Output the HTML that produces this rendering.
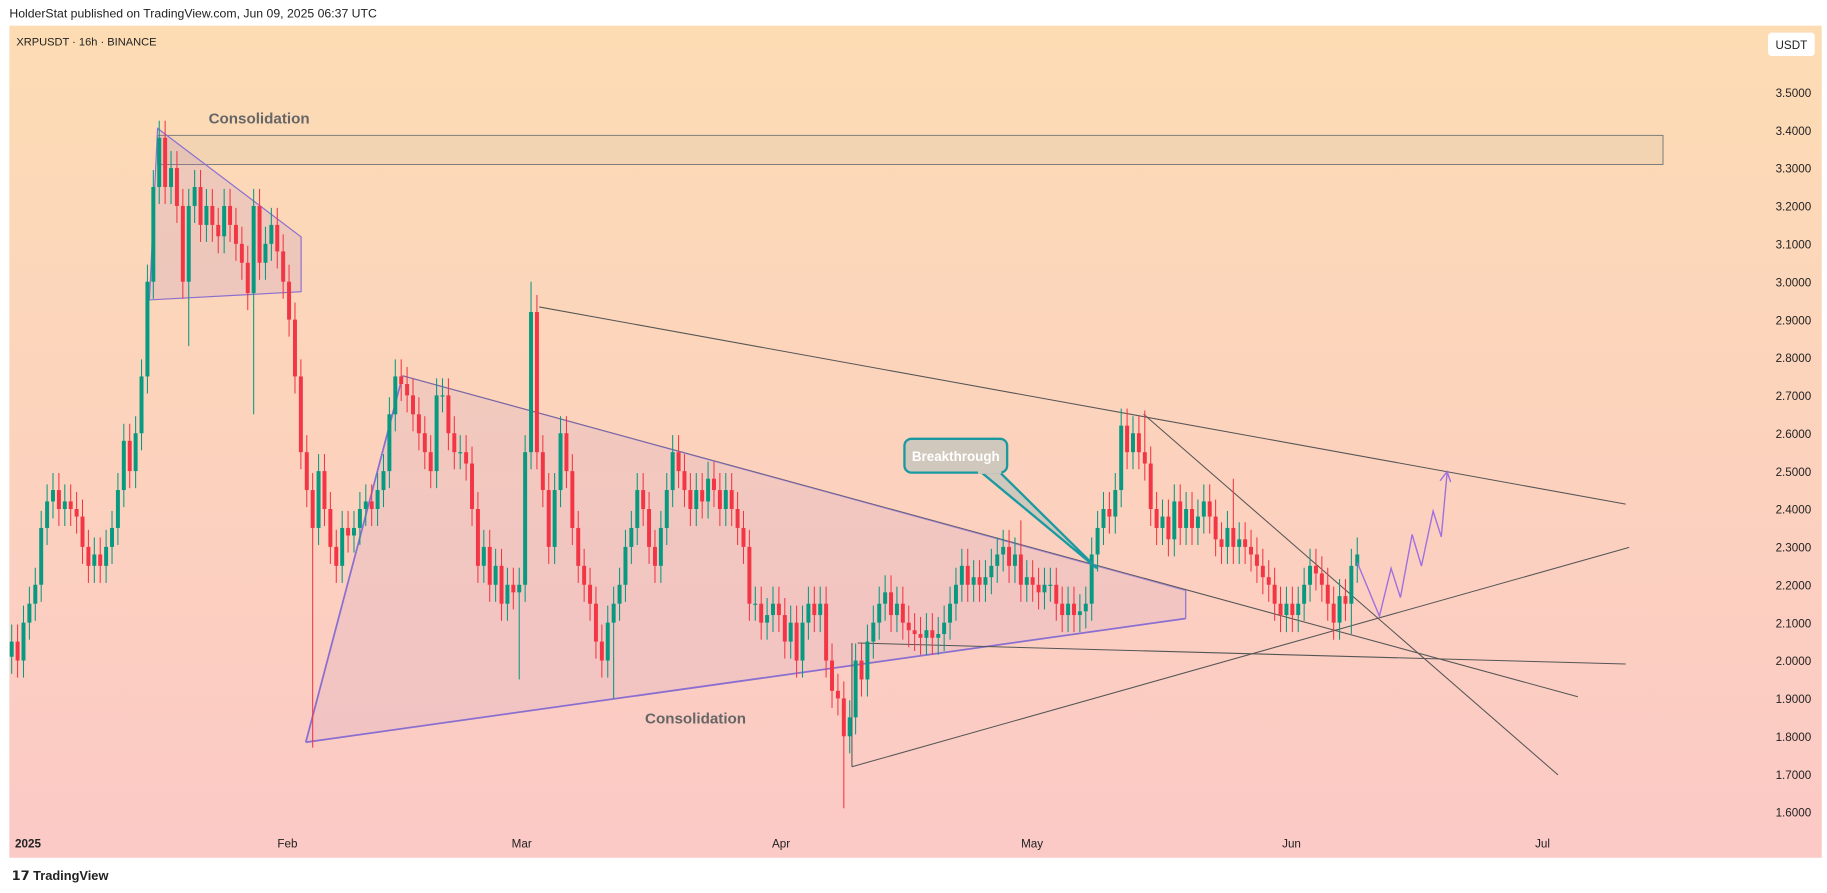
<!DOCTYPE html>
<html><head><meta charset="utf-8"><style>
html,body{margin:0;padding:0;background:#fff;width:1827px;height:893px;overflow:hidden}
svg{display:block;font-family:"Liberation Sans",sans-serif}
</style></head><body>
<svg id="chart" width="1827" height="893" viewBox="0 0 1565.5 765.2" xmlns="http://www.w3.org/2000/svg">
<defs><linearGradient id="bg" x1="0" y1="0" x2="0" y2="1"><stop offset="0" stop-color="#fddcb4"/><stop offset="1" stop-color="#fbc9c6"/></linearGradient></defs>
<rect width="1565.5" height="765.2" fill="#fff"/>
<text x="8" y="15" font-size="10.5" fill="#222">HolderStat published on TradingView.com, Jun 09, 2025 06:37 UTC</text>
<rect x="8" y="22" width="1553" height="713" fill="url(#bg)"/>
<text x="14" y="39" font-size="9.5" fill="#222">XRPUSDT · 16h · BINANCE</text>
<rect x="1515" y="28" width="40" height="20" rx="3" fill="#fff"/>
<text x="1535" y="42" font-size="10" text-anchor="middle" fill="#222">USDT</text>
<g id="yaxis"></g><g id="xaxis"></g>
<rect x="135" y="116" width="1290" height="25" fill="#f2d3b2" stroke="#777" stroke-width="0.8"/>
<text x="222" y="106" font-size="13" font-weight="bold" text-anchor="middle" fill="#666">Consolidation</text>
<polygon points="135,110 258,203 258,250 128,257" fill="rgba(170,130,200,0.18)" stroke="#8a6fd0" stroke-width="1"/>
<polygon points="262,636 345,322 1016,506 1016,530" fill="rgba(190,150,200,0.16)" stroke="none"/>
<g stroke="#8a6fd0" stroke-width="1.5" fill="none">
<line x1="262" y1="636" x2="345" y2="322"/>
<line x1="262" y1="636" x2="1016" y2="530"/>
<line x1="1016" y1="506" x2="1016" y2="530" stroke-width="1"/>
</g>
<g stroke="#555" stroke-width="0.9" fill="none">
<line x1="345" y1="322" x2="1352" y2="597"/>
<line x1="462" y1="263" x2="1393" y2="432"/>
<line x1="980" y1="355" x2="1335" y2="664"/>
<line x1="730" y1="657" x2="1396" y2="469"/>
<line x1="735" y1="551" x2="1393" y2="569"/>
<line x1="730" y1="551" x2="730" y2="657"/>
</g>
<line x1="345" y1="322" x2="1016" y2="506" stroke="#8a6fd0" stroke-width="1" opacity="0.7"/>
<text x="596" y="620" font-size="13" font-weight="bold" text-anchor="middle" fill="#666">Consolidation</text>
<g id="candles"></g>
<polyline points="1163,482 1182,528 1192,487 1200,512 1210,458 1218,485 1228,438 1235,460 1240,405" fill="none" stroke="#a070e0" stroke-width="1.2"/>
<polyline points="1234,412 1240,404 1243,413" fill="none" stroke="#a070e0" stroke-width="1.2"/>
<g>
<path d="M840,404 L940,487 L856,404" fill="#d0c8bc" stroke="#1a9aa0" stroke-width="2"/>
<rect x="775" y="376" width="88" height="29" rx="6" fill="#d0c8bc" stroke="#1a9aa0" stroke-width="2"/>
<rect x="838" y="401" width="20" height="5" fill="#d0c8bc"/>
<text x="819" y="395" font-size="11.5" font-weight="bold" text-anchor="middle" fill="#fff">Breakthrough</text>
</g>
<text x="10" y="754" font-size="11" font-weight="bold" fill="#222">𝟭𝟳 TradingView</text>
</svg>
<script>
const closes=[2.05,2.0,2.1,2.15,2.2,2.35,2.42,2.45,2.4,2.42,2.4,2.38,2.3,2.25,2.28,2.25,2.3,2.35,2.45,2.58,2.5,2.6,2.75,3.0,3.25,3.38,3.25,3.3,3.2,3.0,3.2,3.25,3.15,3.2,3.15,3.12,3.2,3.15,3.1,3.05,2.97,3.2,3.05,3.1,3.15,3.08,3.0,2.9,2.75,2.55,2.45,2.35,2.5,2.4,2.3,2.25,2.35,2.33,2.35,2.4,2.42,2.4,2.45,2.5,2.65,2.75,2.73,2.7,2.65,2.6,2.55,2.5,2.7,2.7,2.6,2.55,2.55,2.52,2.4,2.25,2.3,2.2,2.25,2.15,2.2,2.18,2.2,2.55,2.92,2.55,2.45,2.3,2.45,2.6,2.5,2.35,2.25,2.2,2.15,2.05,2.0,2.1,2.15,2.2,2.3,2.35,2.45,2.4,2.3,2.25,2.35,2.45,2.55,2.5,2.45,2.4,2.45,2.42,2.48,2.45,2.4,2.45,2.4,2.35,2.3,2.15,2.15,2.1,2.12,2.15,2.12,2.05,2.1,2.0,2.1,2.15,2.12,2.15,2.0,1.92,1.9,1.8,1.85,2.0,1.95,2.05,2.1,2.15,2.18,2.12,2.15,2.1,2.08,2.07,2.06,2.08,2.06,2.07,2.1,2.15,2.2,2.25,2.2,2.22,2.2,2.22,2.25,2.28,2.3,2.25,2.28,2.2,2.22,2.2,2.18,2.2,2.2,2.15,2.12,2.15,2.12,2.13,2.15,2.28,2.35,2.4,2.38,2.45,2.62,2.55,2.6,2.55,2.52,2.4,2.35,2.38,2.32,2.42,2.35,2.4,2.35,2.38,2.42,2.38,2.32,2.3,2.35,2.3,2.32,2.3,2.28,2.25,2.22,2.2,2.15,2.12,2.15,2.12,2.15,2.2,2.25,2.23,2.2,2.15,2.1,2.17,2.15,2.25,2.28];
const spikeIdx=[25,30,41,51,88,86,102,141,171,192,207,227];
const spikeVal=[3.41,2.83,2.65,1.77,3.0,1.95,1.9,1.61,2.37,2.66,2.48,2.07];
const priceTicks=[3.5,3.4,3.3,3.2,3.1,3.0,2.9,2.8,2.7,2.6,2.5,2.4,2.3,2.2,2.1,2.0,1.9,1.8,1.7,1.6];
const monthLabels=["2025","Feb","Mar","Apr","May","Jun","Jul"];
const monthDays=[0,31,59,90,120,151,181];
const NS="http://www.w3.org/2000/svg";
function y(p){return 79.1+(3.5-p)*324.6;}
function xDay(d){return 24+d*7.17;}
const x0=10,x1=1163,step=(x1-x0)/(closes.length-1);
function xi(i){return x0+i*step;}
function mk(tag,attrs,parent){const e=document.createElementNS(NS,tag);for(const k in attrs)e.setAttribute(k,attrs[k]);parent.appendChild(e);return e;}
const ya=document.getElementById('yaxis');
priceTicks.forEach(p=>{const t=mk('text',{x:1552,y:y(p)+4,'font-size':10,'text-anchor':'end',fill:'#222'},ya);


t.textContent=p.toFixed(4);});
const xa=document.getElementById('xaxis');
monthLabels.forEach((m,i)=>{const t=mk('text',{x:xDay(monthDays[i]),y:726,'font-size':10,'text-anchor':'middle',fill:'#222','font-weight':i===0?'bold':'normal'},xa);


t.textContent=m;});
const cg=document.getElementById('candles');
closes.forEach((c,i)=>{const o=i===0?c-0.04:closes[i-1];
let hi=Math.max(o,c)+0.045,lo=Math.min(o,c)-0.045;
const s=spikeIdx.indexOf(i);if(s>=0){if(spikeVal[s]>c)hi=Math.max(hi,spikeVal[s]);else lo=Math.min(lo,spikeVal[s]);}
const col=c>=o?'#089981':'#f23645';const cx=xi(i);
const w=mk('line',{x1:cx,x2:cx,y1:y(hi),y2:y(lo),stroke:col,'stroke-width':0.9},cg);


const top=y(Math.max(o,c)),h=Math.max(1,Math.abs(y(o)-y(c)));
const b=mk('rect',{x:cx-1.7,y:top,width:3.4,height:h,fill:col},cg);

});
</script>
</body></html>
